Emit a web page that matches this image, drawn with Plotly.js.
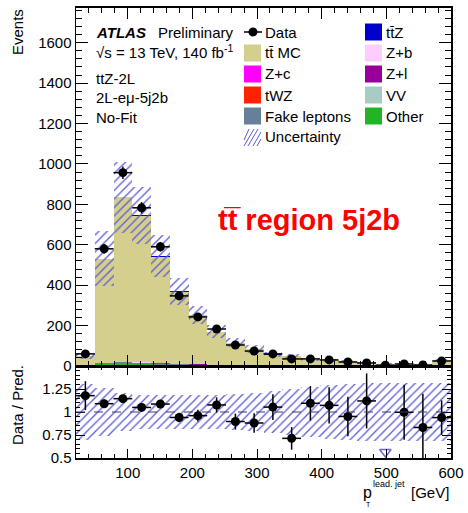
<!DOCTYPE html>
<html>
<head>
<meta charset="utf-8">
<script src="https://cdn.plot.ly/plotly-3.0.1.min.js"></script>
<style>
  html, body { margin: 0; padding: 0; background: #ffffff; }
  #plot { width: 468px; height: 513px; }
</style>
</head>
<body>
<div id="plot"></div>
<script>
// Leading-jet pT distribution in the ttbar 5j2b control region (2L e-mu)
const binCenters = [34.5, 63.5, 92.5, 121.5, 150.5, 179.5, 208.5, 237.5, 266.5, 295.5,
                    324.5, 353.5, 382.5, 411.5, 440.5, 469.5, 498.5, 527.5, 556.5, 585.5];
const binWidth = 29;

const dataCounts = [60, 580, 957, 783, 590, 347, 243, 183, 104, 74,
                    60, 35, 35, 30, 20, 15, 4, 10, 5, 25];
const dataErr    = [8, 24, 31, 28, 24, 19, 16, 14, 10, 9,
                    8, 6, 6, 5.5, 4.5, 4, 2, 3, 2.2, 5];

// background components, listed from the bottom of the stack upwards
const otherBkg = [2, 8, 10, 9, 7, 5, 4, 3, 2, 2, 1.5, 1, 1, 0.8, 0.6, 0.5, 0.4, 0.3, 0.3, 0.6];
const fakeLep  = [1, 6, 8, 7, 5, 4, 3, 2, 1.5, 1, 0.8, 0.6, 0.5, 0.4, 0.3, 0.2, 0.2, 0.2, 0.1, 0.3];
const vvBkg    = [0.1, 0.4, 0.5, 0.4, 0.3, 0.25, 0.2, 0.15, 0.1, 0.1, 0.08, 0.06, 0.05, 0.04, 0.03, 0.03, 0.02, 0.02, 0.02, 0.04];
const twzBkg   = [0.05, 0.3, 0.4, 0.4, 0.3, 0.25, 0.2, 0.15, 0.1, 0.08, 0.06, 0.05, 0.04, 0.03, 0.03, 0.02, 0.02, 0.02, 0.01, 0.03];
const zlBkg    = [0.05, 0.2, 0.3, 0.2, 0.2, 0.1, 0.1, 0.1, 0.05, 0.05, 0.03, 0.02, 0.02, 0.02, 0.01, 0.01, 0.01, 0.01, 0.01, 0.02];
const zcBkg    = [0.05, 0.2, 0.2, 0.2, 0.15, 0.1, 0.1, 0.05, 0.05, 0.04, 0.03, 0.02, 0.02, 0.01, 0.01, 0.01, 0.01, 0.01, 0.01, 0.01];
const zbBkg    = [0.1, 0.4, 0.5, 0.5, 0.4, 0.3, 0.2, 0.15, 0.1, 0.08, 0.06, 0.05, 0.04, 0.03, 0.02, 0.02, 0.01, 0.01, 0.01, 0.02];
const ttbarMC  = [47.4, 515.5, 814.6, 726.8, 528.4, 358, 244.4, 163.8, 111.6, 80.3,
                  54.1, 47, 30.1, 26.5, 19.9, 12.5, 9.3, 9.4, 5.5, 25.5];
const ttzSig   = [0.2, 1.0, 1.5, 1.5, 1.3, 1.0, 0.8, 0.6, 0.5, 0.4, 0.3, 0.25, 0.2, 0.15, 0.12, 0.1, 0.08, 0.06, 0.05, 0.1];

// relative total uncertainty of the prediction per bin
const uncRel = [0.30, 0.26, 0.21, 0.19, 0.19, 0.18, 0.18, 0.19, 0.20, 0.21,
                0.23, 0.25, 0.27, 0.29, 0.30, 0.31, 0.31, 0.31, 0.31, 0.31];

const xTickVals = [100, 200, 300, 400, 500, 600];
const yTickVals = [0, 200, 400, 600, 800, 1000, 1200, 1400, 1600];
const ratioTickVals = [0.5, 0.75, 1, 1.25];
const ratioTickText = ['0.5', '0.75', '1', '1.25'];

const components = [
  { name: 'Other',        values: otherBkg, color: '#22b422' },
  { name: 'Fake leptons', values: fakeLep,  color: '#66809a' },
  { name: 'VV',           values: vvBkg,    color: '#a8ccc4' },
  { name: 'tWZ',          values: twzBkg,   color: '#ff2200' },
  { name: 'Z+l',          values: zlBkg,    color: '#990099' },
  { name: 'Z+c',          values: zcBkg,    color: '#ff00ff' },
  { name: 'Z+b',          values: zbBkg,    color: '#ffccff' },
  { name: 'tt\u0304 MC',  values: ttbarMC,  color: '#d5cf8e' },
  { name: 'tt\u0304Z',    values: ttzSig,   color: '#0000cc' }
];

const FONT = 'Liberation Sans, Arial, Helvetica, sans-serif';
const hatchColor = '#5c5cd6';

// stacked prediction, each layer drawn from the running sum below it
const traces = [];
let running = binCenters.map(() => 0);
components.forEach(c => {
  traces.push({
    type: 'bar', x: binCenters, y: c.values, base: running.slice(),
    width: binWidth, xaxis: 'x', yaxis: 'y',
    marker: { color: c.color, line: { width: 0 } },
    hoverinfo: 'skip', showlegend: false
  });
  running = running.map((v, i) => v + c.values[i]);
});
const totalPred = running;

// hatched uncertainty band on the stack
traces.push({
  type: 'bar', x: binCenters,
  y: totalPred.map((v, i) => 2 * v * uncRel[i]),
  base: totalPred.map((v, i) => v * (1 - uncRel[i])),
  width: binWidth, xaxis: 'x', yaxis: 'y',
  marker: { color: 'rgba(0,0,0,0)', line: { width: 0 },
            pattern: { shape: '/', fgcolor: hatchColor, bgcolor: 'rgba(0,0,0,0)', size: 6, solidity: 0.22, fillmode: 'replace' } },
  hoverinfo: 'skip', showlegend: false
});

// data points
traces.push({
  type: 'scatter', mode: 'markers', x: binCenters, y: dataCounts,
  xaxis: 'x', yaxis: 'y', cliponaxis: true,
  marker: { color: '#000000', size: 9 },
  error_x: { type: 'constant', value: binWidth / 2, color: '#000000', thickness: 1.5, width: 0 },
  error_y: { type: 'data', array: dataErr, color: '#000000', thickness: 1.5, width: 0 },
  hoverinfo: 'skip', showlegend: false
});

// ratio panel: uncertainty band
traces.push({
  type: 'bar', x: binCenters,
  y: uncRel.map(r => 2 * r),
  base: uncRel.map(r => 1 - r),
  width: binWidth, xaxis: 'x2', yaxis: 'y2',
  marker: { color: 'rgba(0,0,0,0)', line: { width: 0 },
            pattern: { shape: '/', fgcolor: hatchColor, bgcolor: 'rgba(0,0,0,0)', size: 6, solidity: 0.22, fillmode: 'replace' } },
  hoverinfo: 'skip', showlegend: false
});

// ratio panel: data / prediction
const ratio = dataCounts.map((d, i) => d / totalPred[i]);
const ratioErr = dataErr.map((e, i) => e / totalPred[i]);
const ratioLow = 0.5;
traces.push({
  type: 'scatter', mode: 'markers', x: binCenters,
  y: ratio.map(r => (r >= ratioLow ? r : null)),
  xaxis: 'x2', yaxis: 'y2', cliponaxis: true,
  marker: { color: '#000000', size: 9 },
  error_x: { type: 'constant', value: binWidth / 2, color: '#000000', thickness: 1.5, width: 0 },
  error_y: { type: 'data', array: ratioErr, color: '#000000', thickness: 1.5, width: 0 },
  hoverinfo: 'skip', showlegend: false
});
// off-scale ratio points are flagged with an open arrow at the lower edge
const offX = binCenters.filter((x, i) => ratio[i] < ratioLow);
traces.push({
  type: 'scatter', mode: 'markers', x: offX, y: offX.map(() => 0.565),
  xaxis: 'x2', yaxis: 'y2',
  marker: { symbol: 'triangle-down-open', color: '#6a6ae0', size: 10, line: { width: 1.5 } },
  hoverinfo: 'skip', showlegend: false
});

// pixel -> paper helpers for the overlay text
const L = 76, R = 451, T = 8, B = 458;
const px = x => (x - L) / (R - L);
const py = y => (B - y) / (B - T);
const split = (B - 366) / (B - T);

const txt = (text, x, y, opts = {}) => Object.assign({
  text, x: px(x), y: py(y), xref: 'paper', yref: 'paper',
  xanchor: 'left', yanchor: 'middle', showarrow: false,
  font: { family: FONT, size: 15, color: '#000000' }
}, opts);

const annotations = [
  txt('<b><i>ATLAS</i></b>', 94, 32),
  txt('Preliminary', 156, 32),
  txt('\u221As = 13 TeV, 140 fb<sup>-1</sup>', 94, 52),
  txt('ttZ-2L', 94, 78),
  txt('2L-e\u03bc-5j2b', 94, 97),
  txt('No-Fit', 94, 117),
  txt('<b>tt\u0305 region 5j2b</b>', 216, 220, { font: { family: FONT, size: 29, color: '#ff0000' } }),
  txt('Events', 17, 7, { xanchor: 'center', yanchor: 'top', textangle: -90 }),
  txt('Data / Pred.', 17, 405, { xanchor: 'center', textangle: -90 }),
  txt('p', 361, 492, { font: { family: FONT, size: 16, color: '#000000' } }),
  txt('lead. jet', 371, 483.5, { font: { family: FONT, size: 9, color: '#000000' } }),
  txt('T', 363.5, 505, { font: { family: FONT, size: 7, color: '#000000' } }),
  txt('[GeV]', 451, 492, { xanchor: 'right', font: { family: FONT, size: 15, color: '#000000' } })
];

const shapes = [
  { type: 'line', xref: 'paper', yref: 'y2', x0: 0, x1: 1, y0: 1, y1: 1,
    line: { color: '#3a3a70', width: 1, dash: 'dash' } }
];

// legend: two columns, drawn as swatches plus labels
const rowY = [32, 53, 74, 95, 116, 137];
const col1 = { sw: 244, tx: 263 }, col2 = { sw: 365, tx: 384 };
const swatch = (x, y, color) => ({
  type: 'rect', xref: 'paper', yref: 'paper',
  x0: px(x), x1: px(x + 17), y0: py(y + 8.5), y1: py(y - 8.5),
  fillcolor: color, line: { width: 0 }
});
const byName = n => components.find(c => c.name === n).color;

// Data entry
shapes.push({ type: 'line', xref: 'paper', yref: 'paper', x0: px(244), x1: px(262), y0: py(32), y1: py(32),
              line: { color: '#000000', width: 1.5 } });
shapes.push({ type: 'circle', xref: 'paper', yref: 'paper', x0: px(248.5), x1: px(257.5), y0: py(36.5), y1: py(27.5),
              fillcolor: '#000000', line: { color: '#000000', width: 0 } });
annotations.push(txt('Data', col1.tx, rowY[0]));

const col1Items = ['tt\u0304 MC', 'Z+c', 'tWZ', 'Fake leptons'];
col1Items.forEach((n, k) => {
  shapes.push(swatch(col1.sw, rowY[k + 1], byName(n)));
  annotations.push(txt(n, col1.tx, rowY[k + 1]));
});
const col2Items = ['tt\u0304Z', 'Z+b', 'Z+l', 'VV', 'Other'];
col2Items.forEach((n, k) => {
  shapes.push(swatch(col2.sw, rowY[k], byName(n)));
  annotations.push(txt(n, col2.tx, rowY[k]));
});
// Uncertainty entry: hatched swatch made of short diagonal strokes
[[244, 140, 249, 129], [244, 146, 254, 129], [248, 146, 258, 129], [253, 146, 261, 132], [257, 146, 261, 139]]
  .forEach(([xa, ya, xb, yb]) => {
    shapes.push({ type: 'line', xref: 'paper', yref: 'paper',
      x0: px(xa), y0: py(ya), x1: px(xb), y1: py(yb),
      line: { color: hatchColor, width: 1 } });
  });
annotations.push(txt('Uncertainty', col1.tx, rowY[5]));

const axisCommon = {
  showgrid: false, zeroline: false, showline: true, linecolor: '#000000', linewidth: 1.5,
  ticks: 'inside', tickcolor: '#000000', tickwidth: 1, mirror: 'allticks',
  tickfont: { family: FONT, size: 15, color: '#000000' }
};

const layout = {
  width: 468, height: 513,
  margin: { l: L, r: 468 - R, t: T, b: 513 - B, pad: 0 },
  paper_bgcolor: '#ffffff', plot_bgcolor: '#ffffff',
  barmode: 'overlay', bargap: 0, showlegend: false,
  font: { family: FONT, size: 15, color: '#000000' },
  xaxis: Object.assign({}, axisCommon, {
    domain: [0, 1], anchor: 'y', range: [20, 600], linewidth: 2,
    tickvals: xTickVals, showticklabels: false, ticklen: 11,
    minor: { dtick: 20, tick0: 0, ticklen: 5, ticks: 'inside', tickcolor: '#000000' }
  }),
  yaxis: Object.assign({}, axisCommon, {
    domain: [split, 1], anchor: 'x', range: [0, 1772],
    tickvals: yTickVals, ticklen: 12,
    minor: { dtick: 40, tick0: 0, ticklen: 6, ticks: 'inside', tickcolor: '#000000' }
  }),
  xaxis2: Object.assign({}, axisCommon, {
    domain: [0, 1], anchor: 'y2', range: [20, 600],
    tickvals: xTickVals, ticklen: 9,
    minor: { dtick: 20, tick0: 0, ticklen: 4, ticks: 'inside', tickcolor: '#000000' }
  }),
  yaxis2: Object.assign({}, axisCommon, {
    domain: [0, split], anchor: 'x2', range: [0.5, 1.5],
    tickvals: ratioTickVals, ticktext: ratioTickText, ticklen: 9,
    minor: { dtick: 0.05, tick0: 0.5, ticklen: 4, ticks: 'inside', tickcolor: '#000000' }
  }),
  annotations, shapes
};

Plotly.newPlot('plot', traces, layout, { staticPlot: true, displayModeBar: false });
</script>
</body>
</html>
